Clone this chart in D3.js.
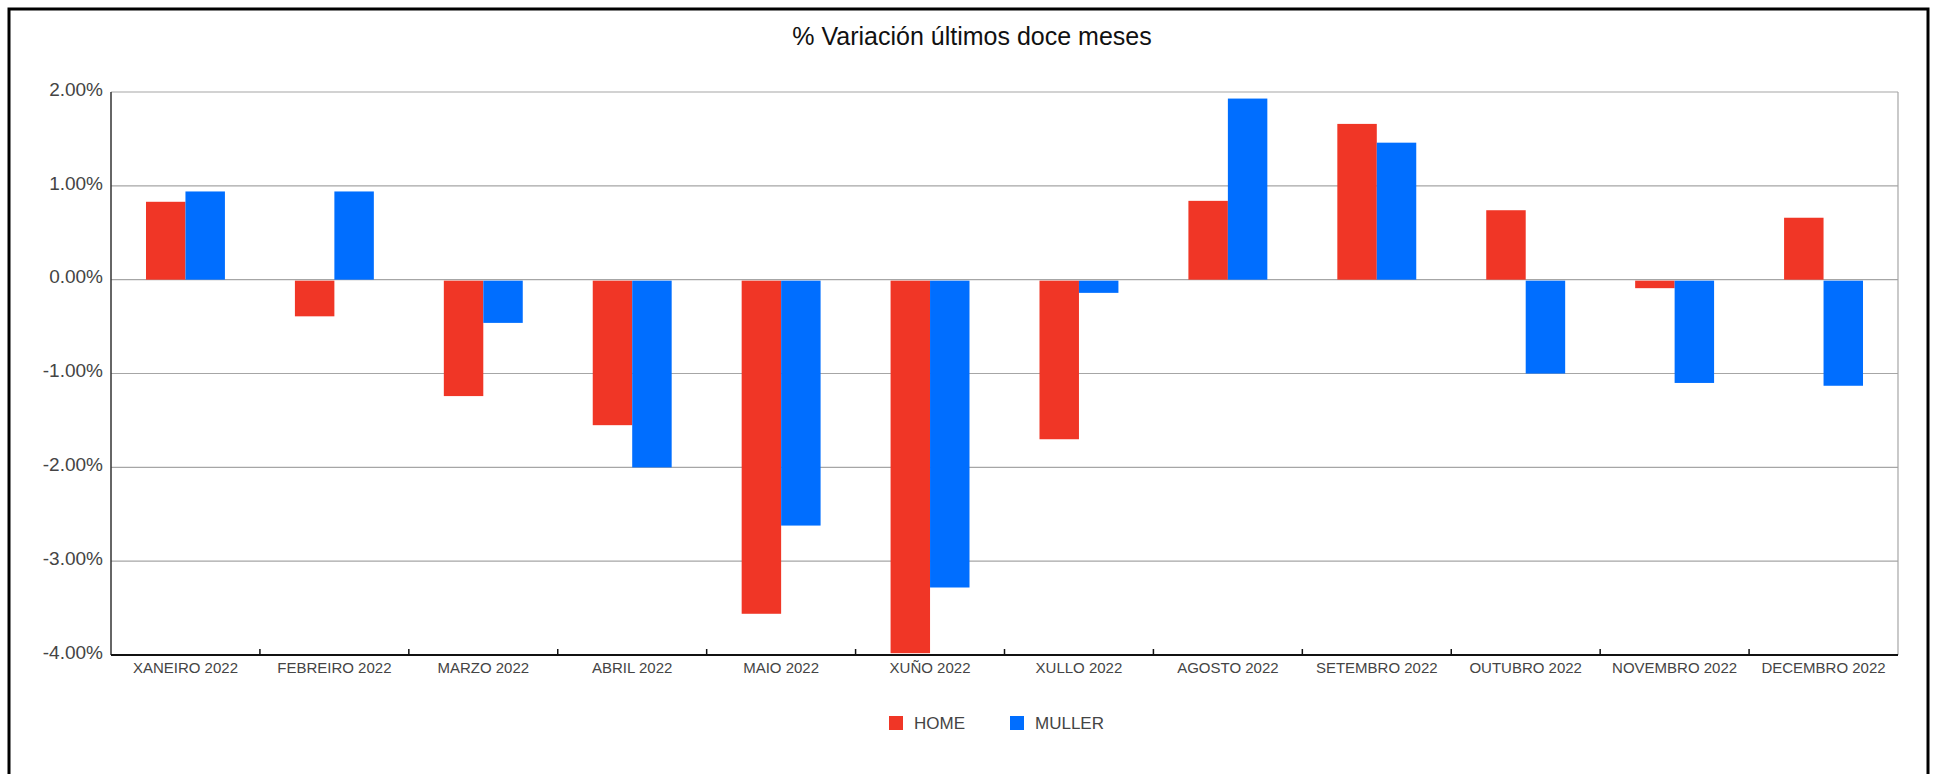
<body style="margin:0;background:#fff">
<script src="https://d3js.org/d3.v7.min.js"></script>
<script>
var months = ["XANEIRO 2022","FEBREIRO 2022","MARZO 2022","ABRIL 2022","MAIO 2022","XUÑO 2022",
              "XULLO 2022","AGOSTO 2022","SETEMBRO 2022","OUTUBRO 2022","NOVEMBRO 2022","DECEMBRO 2022"];
var seriesNames = ["HOME","MULLER"];
var home   = [0.83,-0.38,-1.23,-1.54,-3.55,-3.97,-1.69,0.84,1.66,0.74,-0.08,0.66];
var muller = [0.94,0.94,-0.45,-1.99,-2.61,-3.27,-0.13,1.93,1.46,-0.99,-1.09,-1.12];
var yTicks = [2,1,0,-1,-2,-3,-4];
var colors = ["#F03626","#006EFF"];

var W = 1935, H = 774,
    m = {left:111, right:37, top:92, bottom:119},
    w = W - m.left - m.right, h = H - m.top - m.bottom;

var svg = d3.select("body").append("svg").attr("width", W).attr("height", H)
    .style("display","block").style("font-family","'Liberation Sans', Arial, sans-serif");

// outer frame
svg.append("rect").attr("x",9).attr("y",9).attr("width",1919).attr("height",800)
    .attr("fill","none").attr("stroke","#000").attr("stroke-width",3);

svg.append("text").attr("x", 972).attr("y", 45).attr("text-anchor","middle")
    .attr("font-size",25).attr("fill","#111").text("% Variación últimos doce meses");

var g = svg.append("g").attr("transform","translate("+m.left+","+m.top+")");

var x0 = d3.scaleBand().domain(months).range([0,w]);
var x1 = d3.scaleBand().domain(seriesNames)
    .range([x0.bandwidth()*0.235, x0.bandwidth()*0.765]);
var y = d3.scaleLinear().domain([-4,2]).range([h,0]);

// gridlines
g.selectAll(".grid").data(yTicks).enter().append("line")
    .attr("x1",0).attr("x2",w).attr("y1",d=>y(d)).attr("y2",d=>y(d))
    .attr("stroke","#a6a6a6").attr("stroke-width",1.2);
g.append("line").attr("x1",w).attr("x2",w).attr("y1",0).attr("y2",h)
    .attr("stroke","#a6a6a6").attr("stroke-width",1.2);

// y labels
g.selectAll(".ylab").data(yTicks).enter().append("text")
    .attr("x",-8).attr("y",d=>y(d)).attr("dy","0.2em").attr("text-anchor","end")
    .attr("font-size",19).attr("fill","#444").text(d=>d.toFixed(2)+"%");

// bars
var data = months.map((mm,i)=>({m:mm, vals:[home[i],muller[i]]}));
var grp = g.selectAll(".grp").data(data).enter().append("g")
    .attr("transform",d=>"translate("+x0(d.m)+",0)");
grp.selectAll("rect").data(d=>d.vals.map((v,j)=>({k:seriesNames[j],v:v,c:colors[j]})))
  .enter().append("rect")
    .attr("x",d=>x1(d.k)).attr("width",x1.bandwidth())
    .attr("y",d=>d.v>=0 ? y(d.v) : y(0)+1)
    .attr("height",d=>Math.abs(y(d.v)-y(0)))
    .attr("fill",d=>d.c);

// axes lines
g.append("line").attr("x1",0).attr("x2",0).attr("y1",0).attr("y2",h)
    .attr("stroke","#333").attr("stroke-width",1.5);
g.append("line").attr("x1",0).attr("x2",w).attr("y1",h).attr("y2",h)
    .attr("stroke","#111").attr("stroke-width",2);
g.selectAll(".tick").data(months.slice(1)).enter().append("line")
    .attr("x1",d=>x0(d)).attr("x2",d=>x0(d)).attr("y1",h-6).attr("y2",h)
    .attr("stroke","#111").attr("stroke-width",1.5);
g.selectAll(".xlab").data(months).enter().append("text")
    .attr("x",d=>x0(d)+x0.bandwidth()/2).attr("y",h+18).attr("text-anchor","middle")
    .attr("font-size",15).attr("fill","#444").text(d=>d);

// legend
var leg = svg.append("g").attr("transform","translate(0,716)");
var lx = [889,1010];
seriesNames.forEach(function(s,i){
  leg.append("rect").attr("x",lx[i]).attr("y",0).attr("width",14).attr("height",14).attr("fill",colors[i]);
  leg.append("text").attr("x",lx[i]+25).attr("y",13).attr("font-size",17).attr("fill","#444").text(s);
});
</script>
</body>
